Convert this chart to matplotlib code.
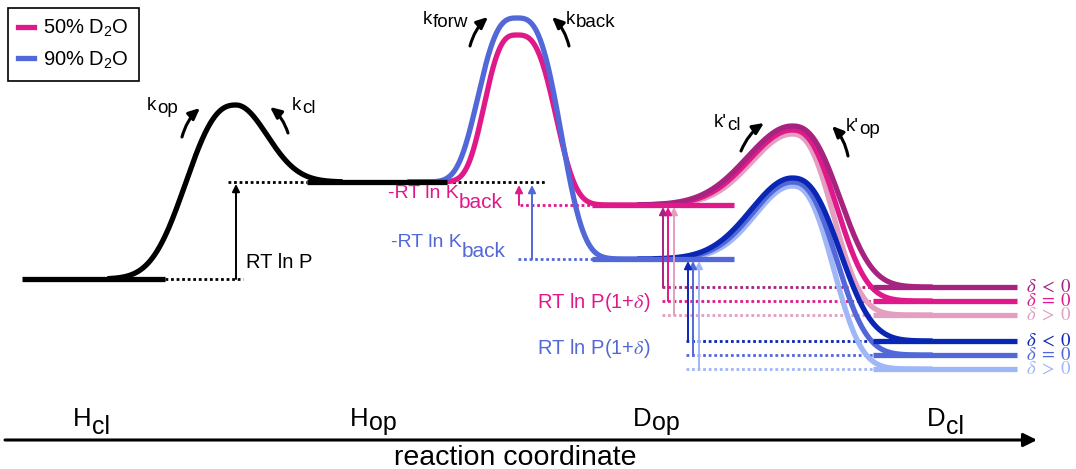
import numpy as np
import matplotlib.pyplot as plt
from matplotlib.patches import FancyArrowPatch

plt.rcParams['font.family'] = ['Liberation Sans', 'DejaVu Sans']

# schematic free-energy levels (screen units, y grows downward)
solvents = ['50% D$_\\mathregular{2}$O', '90% D$_\\mathregular{2}$O']
solvent_colors = ['#e0198a', '#5368d8']
deltas = ['$\\delta\\;<\\;0$', '$\\delta\\;=\\;0$', '$\\delta\\;>\\;0$']
shade_colors = [['#a6237f', '#e0198a', '#e39ec0'],
                ['#0a26b5', '#5368d8', '#9fb6f7']]

state_names = ['H', 'H', 'D', 'D']
state_subs = ['cl', 'op', 'op', 'cl']
state_label_x = [73, 350, 633, 927]

hcl_span = [22, 165]
hop_span = [307, 447]
dop_span = [592, 734]
dcl_span = [873, 1017]
ts_x = [236, 517, 792]

G_hcl = 279
G_hop = 182
G_ts1 = 105
G_ts2 = [35, 18]
G_dop = [205, 259]
G_ts3 = [[126, 130, 134], [178, 182, 186]]
G_dcl = [[287, 301, 315], [341, 355, 369]]


def barrier(x, x0, y_left, y_top, y_right, wl, wr, pl, pr):
    u = x - x0
    left = y_left + (y_top - y_left) * np.exp(-np.abs(u / wl) ** pl)
    right = y_right + (y_top - y_right) * np.exp(-np.abs(u / wr) ** pr)
    return np.where(u < 0, left, right)


fig = plt.figure(figsize=(10.76, 4.69), dpi=100)
ax = fig.add_axes([0, 0, 1, 1])
ax.set_xlim(0, 1076)
ax.set_ylim(469, 0)
ax.axis('off')

LW = 3.8
DOT = dict(linestyle=(0, (1, 1)), lw=2.0)


def level(span, y, c):
    ax.plot(span, [y, y], color=c, lw=LW, solid_capstyle='butt', zorder=3)


def up_arrow(x, y0, y1, c, lw=1.4):
    ax.annotate('', xy=(x, y1), xytext=(x, y0),
                arrowprops=dict(arrowstyle='-|>', color=c, lw=lw,
                                mutation_scale=11, shrinkA=0, shrinkB=0))


def curved(p0, p1, rad):
    ax.add_patch(FancyArrowPatch(p0, p1, connectionstyle='arc3,rad=%s' % rad,
                                 arrowstyle='-|>,head_length=0.55,head_width=0.25',
                                 mutation_scale=12, lw=2.2,
                                 color='black', shrinkA=0, shrinkB=0))


def sub_text(x, y, main, sub, size, color='black', sub_size=None, drop=3):
    t = ax.text(x, y, main, fontsize=size, color=color, ha='left', va='baseline')
    ax.annotate(sub, xy=(1, 0), xycoords=t, xytext=(0.3, -drop * 0.72),
                textcoords='offset points', fontsize=sub_size or size,
                color=color, ha='left', va='bottom')


# H_cl -> H_op
x = np.linspace(110, 340, 400)
ax.plot(x, barrier(x, ts_x[0], G_hcl, G_ts1, G_hop, 62, 44, 2.5, 2),
        color='black', lw=LW)
level(hcl_span, G_hcl, 'black')
level(hop_span, G_hop, 'black')
ax.plot([165, 243], [G_hcl] * 2, color='black', **DOT)
ax.plot([228, 307], [G_hop] * 2, color='black', **DOT)
ax.plot([447, 545], [G_hop] * 2, color='black', **DOT)
up_arrow(236, G_hcl, G_hop + 2, 'black')
ax.text(246, 268, 'RT ln P', fontsize=14.5)

# H_op -> D_op, exchange barrier
wl2 = [38, 45]
wr2 = [45, 51]
x = np.linspace(410, 650, 500)
for i in range(2):
    c = solvent_colors[i]
    ax.plot(x, barrier(x, ts_x[1], G_hop, G_ts2[i], G_dop[i], wl2[i], wr2[i], 3, 3),
            color=c, lw=LW, label=solvents[i], zorder=2 + i * 0.1)
    level(dop_span, G_dop[i], c)

ax.plot([520, 592], [G_dop[0]] * 2, color=solvent_colors[0], **DOT)
ax.plot([518, 593], [G_dop[1]] * 2, color=solvent_colors[1], **DOT)
up_arrow(519, G_dop[0], G_hop + 3, solvent_colors[0])
up_arrow(532, G_dop[1], G_hop + 3, solvent_colors[1])
sub_text(388, 198, '-RT ln K', 'back', 14, solvent_colors[0], 15, 10)
sub_text(391, 247, '-RT ln K', 'back', 14, solvent_colors[1], 15, 10)

# D_op -> D_cl, closing barrier
wl3 = [60, 55]
arrow_x = [[663, 668, 674], [688, 693, 699]]
dot_start = [662, 686]
x = np.linspace(640, 930, 600)
for i in range(2):
    for j in [2, 1, 0]:
        c = shade_colors[i][j]
        y = barrier(x, ts_x[2], G_dop[i], G_ts3[i][j], G_dcl[i][j],
                    wl3[i] + (1 - j) * 3, 55 + (1 - j) * 4, 2, 2.5)
        ax.plot(x, y, color=c, lw=LW, zorder=2)
        ax.plot([dot_start[i], dcl_span[0]], [G_dcl[i][j]] * 2, color=c, zorder=1, **DOT)
        level(dcl_span, G_dcl[i][j], c)
        up_arrow(arrow_x[i][j], G_dcl[i][j], G_dop[i] + 2, c)
        ax.text(1026, G_dcl[i][j] + 5, deltas[j], fontsize=13.5, color=c,
                va='baseline', math_fontfamily='stix')

ax.text(537, 308, 'RT ln P(1+$\\delta$)', fontsize=14.5, color=solvent_colors[0],
        math_fontfamily='stix')
ax.text(537, 354, 'RT ln P(1+$\\delta$)', fontsize=14.5, color=solvent_colors[1],
        math_fontfamily='stix')

# rate constants
sub_text(147, 110, 'k', 'op', 13.5, sub_size=13.5)
sub_text(292, 110, 'k', 'cl', 13.5, sub_size=13.5)
sub_text(423, 24, 'k', 'forw', 13.5, sub_size=13.5)
sub_text(566, 24, 'k', 'back', 13.5, sub_size=13.5)
sub_text(714, 127, "k'", 'cl', 13.5, sub_size=13.5)
sub_text(846, 131, "k'", 'op', 13.5, sub_size=13.5)
curved((182, 137), (200, 108), -0.15)
curved((288, 133), (270, 107), 0.15)
curved((470, 46), (488, 17), -0.15)
curved((569, 46), (552, 17), 0.15)
curved((741, 151), (764, 123), -0.15)
curved((848, 156), (832, 126), 0.15)

# reaction coordinate axis
ax.annotate('', xy=(1037, 440), xytext=(5, 440),
            arrowprops=dict(arrowstyle='-|>', color='black', lw=2.2,
                            mutation_scale=20, shrinkA=0, shrinkB=0))
drops = [8, 4, 4, 8]
for name, sub, xs, d in zip(state_names, state_subs, state_label_x, drops):
    sub_text(xs, 426, name, sub, 18.5, sub_size=18, drop=d)
ax.text(515, 465, 'reaction coordinate', fontsize=20.5, ha='center', va='baseline')

leg = ax.legend(loc='upper left', bbox_to_anchor=(8 / 1076, 1 - 8 / 469),
                borderaxespad=0, fontsize=14.5, handlelength=0.8,
                handletextpad=0.45, borderpad=0.5, labelspacing=0.5,
                fancybox=False, edgecolor='black', framealpha=1)
leg.get_frame().set_linewidth(1.2)

plt.savefig('out.png', dpi=100)
